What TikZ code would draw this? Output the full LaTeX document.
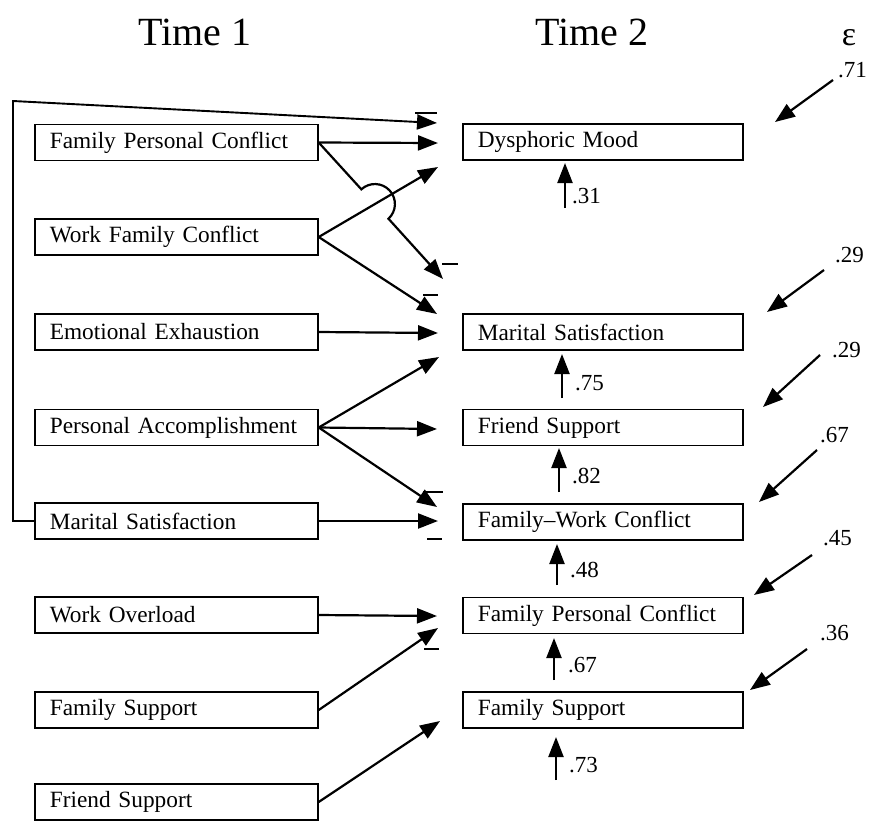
\documentclass[tikz,border=0pt]{standalone}
\usepackage{fontspec}
\setmainfont{Liberation Serif}
\usetikzlibrary{arrows.meta,calc}
\begin{document}
\begin{tikzpicture}[x=1pt,y=-1pt,
  boxL/.style={draw,line width=1.7pt,anchor=west,minimum height=36pt,inner xsep=15pt,inner ysep=0pt,
    text width=253pt,align=left,font=\fontsize{23.3}{28}\selectfont},
  boxR/.style={boxL,text width=250pt},
  conn/.style={line width=2.2pt,-{Triangle[length=20pt,width=15pt]}},
  lbl/.style={anchor=base west,inner sep=0pt,font=\fontsize{23}{28}\selectfont},
  hdr/.style={anchor=base,inner sep=0pt,font=\fontsize{40}{48}\selectfont},
  minus/.style={line width=1.8pt}]
\useasboundingbox (0,0) rectangle (870,820);
% headers
\node[hdr] (t1) at (195,45) {Time 1};
\node[hdr] (t2) at (592,45) {Time 2};
\node[hdr,font=\fontsize{34}{40}\selectfont] (eps) at (849,45) {ε};
% left boxes
\node[boxL] (L1) at (34,142.5) {Family Personal Conflict};
\node[boxL] (L2) at (34,237) {Work Family Conflict};
\node[boxL] (L3) at (34,332) {Emotional Exhaustion};
\node[boxL] (L4) at (34,427.5) {Personal Accomplishment};
\node[boxL] (L5) at (34,521) {Marital Satisfaction};
\node[boxL] (L6) at (34,615) {Work Overload};
\node[boxL] (L7) at (34,710) {Family Support};
\node[boxL] (L8) at (34,802) {Friend Support};
% right boxes
\node[boxR] (R1) at (462,142) {Dysphoric Mood};
\node[boxR] (R2) at (462,332) {Marital Satisfaction};
\node[boxR] (R3) at (462,427.5) {Friend Support};
\node[boxR] (R4) at (462,522) {Family--Work Conflict};
\node[boxR] (R5) at (462,615.5) {Family Personal Conflict};
\node[boxR] (R6) at (462,710) {Family Support};
% arrow tips
\coordinate (tLoop) at (437,123);
\coordinate (lc) at (13,101);
\coordinate (t1a) at (438,143);
\coordinate (t2a) at (438,167);
\coordinate (t1b) at (443,279);
\coordinate (t2b) at (437,314);
\coordinate (t3a) at (438,333);
\coordinate (t4a) at (439,357);
\coordinate (t4b) at (437,429);
\coordinate (t4c) at (437,507);
\coordinate (t5a) at (438,521);
\coordinate (t6a) at (437,616);
\coordinate (t7a) at (438,628);
\coordinate (t8a) at (440,721);
% connectors
\draw[conn,line width=1.9pt] (L5.west) -| (lc) -- (tLoop);
\draw[conn] (L1.east) -- (t1a);
\draw[conn] (L2.east) -- (t2a);
\coordinate (hop) at (intersection of L1.east--t1b and L2.east--t2a);
\draw[conn] (L1.east) -- ($(hop)!20pt!(L1.east)$) arc[start angle=227.3,end angle=407.3,radius=20] -- (t1b);
\draw[conn] (L2.east) -- (t2b);
\draw[conn] (L3.east) -- (t3a);
\draw[conn] (L4.east) -- (t4a);
\draw[conn] (L4.east) -- (t4b);
\draw[conn] (L4.east) -- (t4c);
\draw[conn] (L5.east) -- (t5a);
\draw[conn] (L6.east) -- (t6a);
\draw[conn] (L7.east) -- (t7a);
\draw[conn] (L8.east) -- (t8a);
% minus signs
\draw[minus] (415,113) -- (437,113);
\draw[minus] (442,264) -- (458,264);
\draw[minus] (423,295) -- (438,295);
\draw[minus] (423,492) -- (443,492);
\draw[minus] (427,539) -- (442,539);
\draw[minus] (424,649) -- (439,649);
% vertical arrows with labels
\coordinate (v1s) at (565,208); \coordinate (v1e) at (565,163);
\coordinate (v2s) at (562,398); \coordinate (v2e) at (562,354);
\coordinate (v3s) at (559,492); \coordinate (v3e) at (559,448);
\coordinate (v4s) at (557,585); \coordinate (v4e) at (557,544);
\coordinate (v5s) at (554,680); \coordinate (v5e) at (554,638);
\coordinate (v6s) at (556,780); \coordinate (v6e) at (556,737);
\draw[conn] (v1s) -- (v1e);
\draw[conn] (v2s) -- (v2e);
\draw[conn] (v3s) -- (v3e);
\draw[conn] (v4s) -- (v4e);
\draw[conn] (v5s) -- (v5e);
\draw[conn] (v6s) -- (v6e);
\node[lbl] (n31) at (572,203) {.31};
\node[lbl] (n75) at (575,390) {.75};
\node[lbl] (n82) at (572,483) {.82};
\node[lbl] (n48) at (570,577) {.48};
\node[lbl] (n67) at (568,672) {.67};
\node[lbl] (n73) at (569,772) {.73};
% epsilon arrows
\coordinate (e1s) at (833,80);  \coordinate (e1e) at (775,122);
\coordinate (e2s) at (824,270); \coordinate (e2e) at (767,312);
\coordinate (e3s) at (820,355); \coordinate (e3e) at (763,407);
\coordinate (e4s) at (817,450); \coordinate (e4e) at (759,502);
\coordinate (e5s) at (812,555); \coordinate (e5e) at (754,595);
\coordinate (e6s) at (807,649); \coordinate (e6e) at (750,690);
\draw[conn] (e1s) -- (e1e);
\draw[conn] (e2s) -- (e2e);
\draw[conn] (e3s) -- (e3e);
\draw[conn] (e4s) -- (e4e);
\draw[conn] (e5s) -- (e5e);
\draw[conn] (e6s) -- (e6e);
\node[lbl] (n71) at (838,77) {.71};
\node[lbl] (n29a) at (835,262) {.29};
\node[lbl] (n29b) at (832,357) {.29};
\node[lbl] (n67b) at (820,442) {.67};
\node[lbl] (n45) at (823,545) {.45};
\node[lbl] (n36) at (820,640) {.36};
\end{tikzpicture}
\end{document}
